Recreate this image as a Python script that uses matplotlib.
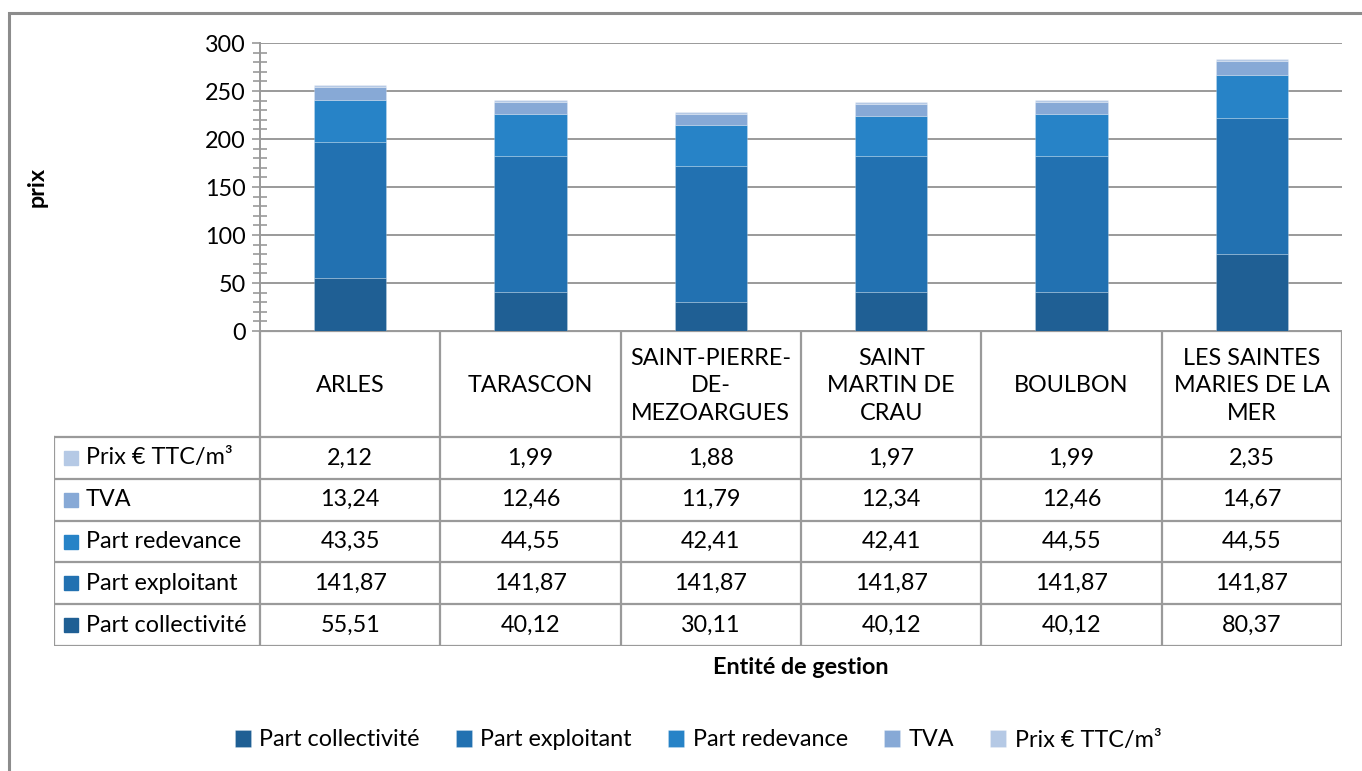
import matplotlib.pyplot as plt
from matplotlib.patches import Rectangle
from matplotlib.ticker import MultipleLocator
import numpy as np

plt.rcParams['font.family'] = ['Lato', 'DejaVu Sans']

# données du graphique
entites = ['ARLES', 'TARASCON', 'SAINT-PIERRE-\nDE-\nMEZOARGUES', 'SAINT\nMARTIN DE\nCRAU',
           'BOULBON', 'LES SAINTES\nMARIES DE LA\nMER']
part_collectivite = [55.51, 40.12, 30.11, 40.12, 40.12, 80.37]
part_exploitant = [141.87, 141.87, 141.87, 141.87, 141.87, 141.87]
part_redevance = [43.35, 44.55, 42.41, 42.41, 44.55, 44.55]
tva = [13.24, 12.46, 11.79, 12.34, 12.46, 14.67]
prix_ttc = [2.12, 1.99, 1.88, 1.97, 1.99, 2.35]

series = [
    ('Part collectivité', part_collectivite, '#1F5F94'),
    ('Part exploitant', part_exploitant, '#2271B1'),
    ('Part redevance', part_redevance, '#2783C7'),
    ('TVA', tva, '#87A9D6'),
    ('Prix € TTC/m³', prix_ttc, '#B5C9E5'),
]

W, H = 1362, 771
grid_col = '#9a9a9a'
fs = 16.8

fig = plt.figure(figsize=(W / 100, H / 100), dpi=100)

# cadre extérieur
fig.patches.append(Rectangle((9 / W, -0.1), 1.2, 1 - 13 / H + 0.1, transform=fig.transFigure,
                             fill=False, edgecolor='#8c8c8c', lw=2.2))

# graphique principal
ax = fig.add_axes([260 / W, 1 - 331 / H, 1082 / W, 288 / H])
x = np.arange(len(entites)) + 0.5
bottom = np.zeros(len(entites))
for name, vals, col in series:
    ax.bar(x, vals, width=0.4, bottom=bottom, color=col, edgecolor=(1, 1, 1, 0.25), lw=0.6,
           label=name, zorder=3)
    bottom += np.array(vals)

ax.set_xlim(0, len(entites))
ax.set_ylim(0, 300)
ax.yaxis.set_major_locator(MultipleLocator(50))
ax.yaxis.set_minor_locator(MultipleLocator(10))
ax.grid(axis='y', color=grid_col, lw=1.4, zorder=0)
ax.tick_params(axis='y', which='major', direction='out', length=6, width=1.2, color=grid_col,
               labelsize=fs, pad=4)
ax.tick_params(axis='y', which='minor', direction='inout', length=10, width=1.2, color=grid_col)
ax.tick_params(axis='x', bottom=False, labelbottom=False)
for s in ['top', 'right', 'bottom']:
    ax.spines[s].set_visible(False)
ax.spines['left'].set_color(grid_col)
ax.spines['left'].set_linewidth(1.4)
ax.set_ylabel('prix', fontsize=fs, fontweight='bold', labelpad=0)
ax.yaxis.set_label_coords(-212 / 1082, 0.5)

# tableau de données sous le graphique
tab = fig.add_axes([54 / W, 1 - 646 / H, (1342 - 54) / W, (646 - 331) / H])
col_w = 1082 / len(entites)
lab_w = (260 - 54) / col_w
tab.set_xlim(-lab_w, len(entites))
header_h = 106
row_h = (315 - header_h) / len(series)
tab.set_ylim(315, 0)
tab.axis('off')

lkw = dict(color=grid_col, lw=1.6, solid_capstyle='projecting')
# lignes verticales
for k in range(len(entites) + 1):
    tab.plot([k, k], [0, 315], **lkw)
tab.plot([-lab_w, -lab_w], [header_h, 315], **lkw)
# lignes horizontales
tab.plot([0, len(entites)], [0, 0], **lkw)
for r in range(len(series) + 1):
    yy = header_h + r * row_h
    tab.plot([-lab_w, len(entites)], [yy, yy], **lkw)

for k, name in enumerate(entites):
    tab.text(k + 0.5, header_h / 2 + 2, name, ha='center', va='center', fontsize=fs, linespacing=1.4)

for r, (name, vals, col) in enumerate(reversed(series)):
    yc = header_h + (r + 0.5) * row_h
    sq = 14 / col_w
    tab.add_patch(Rectangle((-lab_w + 10 / col_w, yc - 7), sq, 14, color=col, clip_on=False))
    tab.text(-lab_w + 32 / col_w, yc, name, ha='left', va='center', fontsize=fs)
    for k, v in enumerate(vals):
        tab.text(k + 0.5, yc, f'{v:.2f}'.replace('.', ','), ha='center', va='center', fontsize=fs)

fig.text(801 / W, 1 - 667 / H, 'Entité de gestion', ha='center', va='center', fontsize=fs,
         fontweight='bold')

handles, labels = ax.get_legend_handles_labels()
fig.legend(handles, labels, loc='center', bbox_to_anchor=(698 / W, 1 - 740 / H), ncol=5,
           frameon=False, fontsize=fs, handlelength=0.7, handleheight=0.7, handletextpad=0.35,
           columnspacing=1.55)

fig.savefig('out.png', dpi=100)
